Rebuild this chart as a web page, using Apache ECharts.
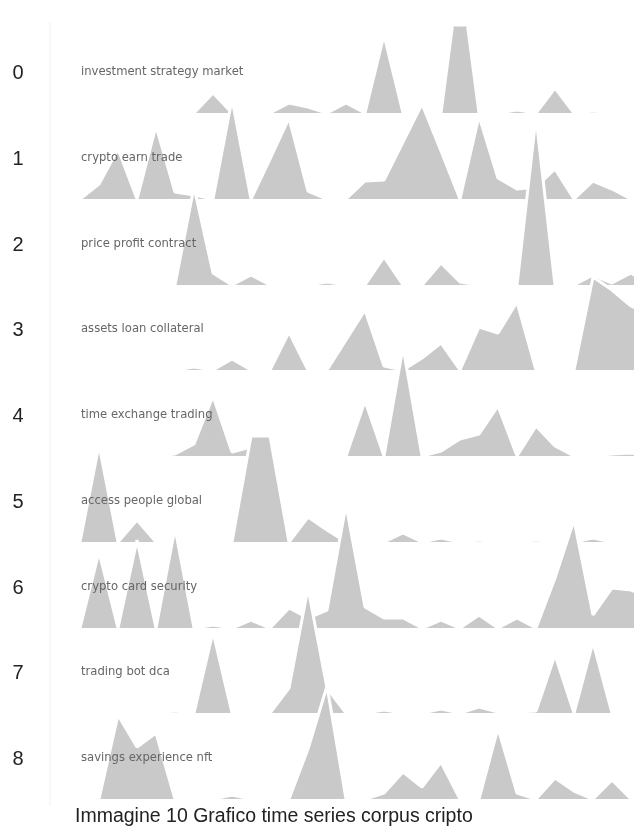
<!DOCTYPE html>
<html>
<head>
<meta charset="utf-8">
<script src="https://cdn.jsdelivr.net/npm/echarts@6/dist/echarts.min.js"></script>
<style>
  html, body { margin: 0; padding: 0; background: #fff; }
  #chart { width: 634px; height: 828px; }
</style>
</head>
<body>
<div id="chart"></div>
<script>
// time steps (x positions, 0-based)
const periods = [0, 1, 2, 3, 4, 5, 6, 7, 8, 9, 10, 11, 12, 13, 14, 15,
  16, 17, 18, 19, 20, 21, 22, 23, 24, 25, 26, 27, 28, 29, 30];
const rowLabels = ['0', '1', '2', '3', '4', '5', '6', '7', '8'];
const topics = ['investment strategy market', 'crypto earn trade', 'price profit contract',
  'assets loan collateral', 'time exchange trading', 'access people global',
  'crypto card security', 'trading bot dca', 'savings experience nft'];

// one series per topic
const topic0 = [0, 0, 0, 0, 0, 0, 0, 20, 0, 0, 0, 10, 6, 0, 10, 0, 78, 0, 0, 0, 145, 0, 0, 3, 0, 25, 0, 2, 0, 0, 0];
const topic1 = [0, 15, 50, 0, 73, 7, 4, 0, 100, 0, 40, 81, 8, 0, 0, 18, 19, 57, 95, 48, 0, 83, 21, 10, 12, 30, 0, 18, 10, 0, 0];
const topic2 = [0, 0, 0, 0, 0, 0, 98, 12, 0, 10, 0, 0, 0, 3, 0, 0, 28, 0, 0, 22, 3, 0, 0, 0, 168, 0, 0, 10, 2, 12, 0];
const topic3 = [0, 0, 0, 0, 0, 0, 3, 0, 11, 0, 0, 38, 0, 0, 30, 60, 4, 0, 12, 27, 0, 43, 37, 68, 0, 0, 0, 93, 80, 64, 55];
const topic4 = [0, 0, 0, 0, 0, 2, 12, 60, 4, 9, 0, 0, 0, 0, 0, 55, 0, 109, 0, 5, 17, 22, 50, 0, 30, 10, 0, 0, 2, 3, 0];
const topic5 = [0, 97, 0, 22, 0, 0, 0, 0, 0, 106, 106, 0, 25, 12, 0, 0, 0, 9, 0, 4, 0, 2, 0, 0, 2, 0, 0, 4, 0, 0, 0];
const topic6 = [0, 76, 0, 88, 0, 100, 0, 3, 0, 8, 0, 20, 10, 18, 123, 21, 10, 10, 0, 8, 0, 13, 0, 10, 0, 50, 108, 13, 40, 38, 30];
const topic7 = [0, 0, 0, 0, 0, 2, 0, 81, 0, 0, 0, 25, 125, 25, 0, 0, 3, 0, 0, 4, 0, 6, 1, 1, 2, 58, 0, 71, 0, 0, 0];
const topic8 = [0, 0, 84, 52, 66, 0, 0, 0, 4, 0, 0, 0, 50, 113, 0, 0, 6, 27, 12, 37, 0, 0, 71, 6, 0, 21, 8, 0, 19, 0, 0];
const topicSeries = [topic0, topic1, topic2, topic3, topic4, topic5, topic6, topic7, topic8];

const caption = 'Immagine 10 Grafico time series corpus cripto';

const chart = echarts.init(document.getElementById('chart'));

const plotTop = 28;      // everything above is cut off
const firstBase = 113;   // baseline of row 0
const rowStep = 85.75;
const plotLeft = 80;
const stepPx = 19;       // px between two time steps
const areaColor = '#c9c9c9';
const fontColor = '#222';

const grids = [];
const xAxes = [];
const yAxes = [];
const series = [];
const graphics = [];

graphics.push({
  type: 'line',
  shape: { x1: 50, y1: 22, x2: 50, y2: 806 },
  style: { stroke: '#f0f0f0', lineWidth: 1 },
  silent: true,
});

rowLabels.forEach((label, i) => {
  const base = Math.round(firstBase + i * rowStep);
  const h = base - plotTop;
  grids.push({ left: plotLeft, top: plotTop, right: 0, height: h });
  xAxes.push({
    type: 'value',
    gridIndex: i,
    min: 0,
    max: (634 - plotLeft) / stepPx, // the last step falls outside the picture
    show: false,
  });
  yAxes.push({
    type: 'value',
    gridIndex: i,
    min: 0,
    max: h, // 1 unit = 1 px, same scale on every row
    show: false,
  });
  series.push({
    name: topics[i],
    type: 'line',
    xAxisIndex: i,
    yAxisIndex: i,
    data: topicSeries[i].map((v, k) => [periods[k], v]),
    symbol: 'none',
    clip: true,
    silent: true,
    z: 10 + i, // lower rows drawn over upper ones
    lineStyle: { color: '#fff', width: 3 },
    areaStyle: { color: areaColor, opacity: 1 },
  });
  // row number on the left
  graphics.push({
    type: 'text',
    x: 18,
    y: base - 40,
    z: 100,
    style: {
      text: label,
      fill: fontColor,
      font: '20px "Liberation Sans", Arial, sans-serif',
      textAlign: 'center',
      textVerticalAlign: 'middle',
    },
  });
  // topic words
  graphics.push({
    type: 'text',
    x: 81,
    y: base - 41,
    z: 100,
    style: {
      text: topics[i],
      fill: '#666',
      font: '11.6px "DejaVu Sans", sans-serif',
      textAlign: 'left',
      textVerticalAlign: 'middle',
    },
  });
});

graphics.push({
  type: 'text',
  x: 75,
  y: 817,
  z: 100,
  style: {
    text: caption,
    fill: fontColor,
    font: '19.5px "Liberation Sans", Arial, sans-serif',
    textAlign: 'left',
    textVerticalAlign: 'middle',
  },
});

const option = {
  animation: false,
  backgroundColor: '#fff',
  grid: grids,
  xAxis: xAxes,
  yAxis: yAxes,
  series: series,
  graphic: graphics,
};
chart.setOption(option);
</script>
</body>
</html>
